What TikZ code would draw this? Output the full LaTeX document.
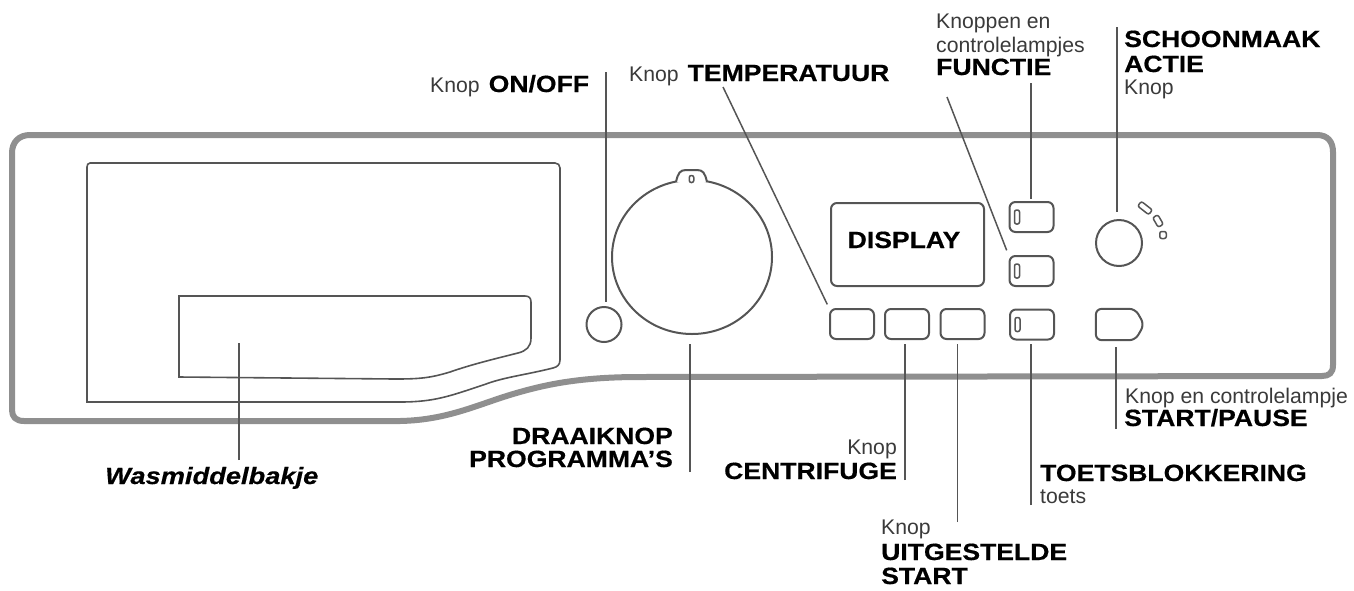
\documentclass[tikz,border=0pt]{standalone}
\usepackage{fontspec}
\setmainfont{Liberation Sans}
\newfontfamily\headfont[FakeStretch=1.13,FakeBold=0.5]{Liberation Sans Bold}
\newfontfamily\trayfont[FakeStretch=1.16,FakeBold=0.5]{Liberation Sans Bold Italic}
\newcommand{\thin}{\fontsize{21.2}{24}\selectfont\color{thintext}}
\newcommand{\head}[1]{{\fontsize{23.5}{25}\headfont\color{black}#1}}
\definecolor{panelgray}{HTML}{8F8F8F}
\definecolor{linegray}{HTML}{555555}
\definecolor{thintext}{HTML}{3A3A3A}
\usetikzlibrary{calc,positioning,shapes.geometric}

\begin{document}
\begin{tikzpicture}[
    x=1pt,y=-1pt,
    button/.style={rectangle,rounded corners=6pt,draw=linegray,line width=2pt,inner sep=0pt,minimum width=44pt,minimum height=30pt},
    knob/.style={circle,draw=linegray,line width=2pt,inner sep=0pt},
    led/.style={rectangle,rounded corners=2pt,draw=linegray,line width=1.5pt,inner sep=0pt,minimum width=5pt,minimum height=14pt},
    leader/.style={draw=linegray,line width=1.5pt},
    outline/.style={draw=linegray,line width=1.6pt},
    lbl/.style={inner sep=0pt,anchor=base west,font=\thin},
    lblr/.style={inner sep=0pt,anchor=base east,font=\thin}
    ]

    \useasboundingbox (0,0) rectangle (1354,590);

    % panel
    \draw[panelgray,line width=6pt,line join=round]
      (30,135) -- (1317,135) .. controls (1328,135) and (1333,142) .. (1333,152)
      -- (1333,365) .. controls (1333,373) and (1329,376) .. (1322,376)
      -- (640,377) .. controls (590,377) and (555,382) .. (520,392)
      .. controls (480,403) and (450,420) .. (400,421)
      -- (24,421) .. controls (16,421) and (12,417) .. (12,410)
      -- (12,153) .. controls (12,142) and (19,135) .. (30,135) -- cycle;

    % drawer
    \draw[outline]
      (90,163) -- (555,163) .. controls (558,163) and (560,165) .. (560,168)
      -- (560,360) .. controls (560,365) and (557,367) .. (553,368)
      .. controls (525,375) and (505,377) .. (486,384)
      .. controls (450,396) and (435,402) .. (400,402)
      -- (87,402) -- (87,167) .. controls (87,165) and (88,163) .. (90,163) -- cycle;
    \draw[outline]
      (179,296) -- (525,296) .. controls (529,296) and (531,298) .. (531,302)
      -- (531,338) .. controls (531,347) and (526,351) .. (518,353)
      .. controls (490,360) and (470,365) .. (450,372)
      .. controls (430,378) and (420,379) .. (395,379)
      -- (179,377) -- cycle;

    \node (onoff) [knob,minimum size=35pt] at (604,324.5) {};
    \node (dial) [ellipse,draw=linegray,line width=2pt,inner sep=0pt,minimum width=160pt,minimum height=154pt] at (692,257) {};
    \draw[draw=linegray,line width=2pt,fill=white] (676,182) .. controls (678,173) and (680,170) .. (686,170)
      -- (697,170) .. controls (703,170) and (705,173) .. (707,182);
    \node (dialmark) [led,minimum width=4.5pt,minimum height=7pt] at (691.5,179) {};

    \node (display) [button,minimum width=153pt,minimum height=83pt] at (907.5,244.5) {};
    \node (displaytext) [inner sep=0pt,anchor=base] at (904,248) {\head{DISPLAY}};

    % lower row
    \node (temp) [button] at (852,324) {};
    \node (spin) [button] at (907,324) {};
    \node (delay) [button] at (962.5,324) {};

    % function column
    \node (funa) [button] at (1031.5,217) {};
    \node (funb) [button] at (1031.5,271) {};
    \node (func) [button] at (1032,324.5) {};
    \foreach \b in {funa,funb,func}
      \node (led\b) [led] at ([xshift=8.5pt]\b.west) {};

    % cleaning knob
    \node (clean) [knob,minimum size=46pt] at (1119,243) {};
    \node (cleana) [led,minimum width=6pt,minimum height=14pt,rotate=52] at (1145,208) {};
    \node (cleanb) [led,minimum width=6pt,minimum height=11pt,rotate=30] at (1158,221) {};
    \node (cleanc) [led,minimum width=6.5pt,minimum height=7pt] at (1163,235) {};

    % start button
    \node (start) [minimum width=47pt,minimum height=31pt,inner sep=0pt] at (1119.5,324.5) {};
    \draw[draw=linegray,line width=2pt,rounded corners=6pt] (start.north west) -- ([xshift=-8pt]start.north east)
      -- ([xshift=1pt]start.east) -- ([xshift=-8pt]start.south east) -- (start.south west) -- cycle;

    % free ends of the leaders
    \coordinate (wOnoff) at (606,72);
    \coordinate (wTemp) at (723,87);
    \coordinate (wFuna) at (1031,83);
    \coordinate (wFunb) at (947,97);
    \coordinate (wClean) at (1117,27);
    \coordinate (wStart) at (1116,429);
    \coordinate (wLock) at (1031,505);
    \coordinate (wDelay) at (957.5,522);
    \coordinate (wSpin) at (905,480);
    \coordinate (wDial) at (690,472);
    \coordinate (wTray) at (239,460);
    \coordinate (inTray) at (239,343);

    \draw[leader,shorten >=4pt] (wOnoff) -- (wOnoff |- onoff.north);
    \draw[leader,shorten >=4pt] (wTemp) -- (temp.north west);
    \draw[leader,shorten >=2pt] (wFuna) -- (wFuna |- funa.north);
    \draw[leader,shorten >=5pt] (wFunb) -- (funb.north west);
    \draw[leader,shorten >=7pt] (wClean) -- (wClean |- clean.north);
    \draw[leader,shorten >=7pt] (wStart) -- (wStart |- start.south);
    \draw[leader,shorten >=3pt] (wLock) -- (wLock |- func.south);
    \draw[leader,shorten >=4pt] (wDelay) -- (wDelay |- delay.south);
    \draw[leader,shorten >=4pt] (wSpin) -- (wSpin |- spin.south);
    \draw[leader,shorten >=9pt] (wDial) -- (wDial |- dial.south);
    \draw[leader] (wTray) -- (inTray);

    % labels
    \node (lOnoff) [lbl] at (430,92) {Knop\hspace{9pt}\head{ON/OFF}};
    \node (lTemp) [lbl] at (629,81) {Knop\hspace{9pt}\head{TEMPERATUUR}};
    \node (lFuna) [lbl] at (936,28) {Knoppen en};
    \node (lFunb) [lbl] at (936,52) {controlelampjes};
    \node (lFunc) [lbl] at (936,75) {\head{FUNCTIE}};
    \node (lCleana) [lbl] at (1124,47) {\head{SCHOONMAAK}};
    \node (lCleanb) [lbl] at (1124,72) {\head{ACTIE}};
    \node (lCleanc) [lbl] at (1124,94) {Knop};
    \node (lStarta) [lbl] at (1125,403) {Knop en controlelampje};
    \node (lStartb) [lbl] at (1124,426) {\head{START/PAUSE}};
    \node (lLocka) [lbl] at (1040,481) {\head{TOETSBLOKKERING}};
    \node (lLockb) [lbl] at (1040,503) {toets};
    \node (lDelaya) [lbl] at (881,534) {Knop};
    \node (lDelayb) [lbl] at (881,560) {\head{UITGESTELDE}};
    \node (lDelayc) [lbl] at (881,584) {\head{START}};
    \node (lSpina) [lblr] at (897,454) {Knop};
    \node (lSpinb) [lblr] at (897,479) {\head{CENTRIFUGE}};
    \node (lDiala) [lblr] at (673,444) {\head{DRAAIKNOP}};
    \node (lDialb) [lblr] at (673,467) {\head{PROGRAMMA’S}};
    \node (lTray) [lbl] at (105,484) {\fontsize{23.5}{25}\trayfont\color{black}Wasmiddelbakje};

\end{tikzpicture}
\end{document}
